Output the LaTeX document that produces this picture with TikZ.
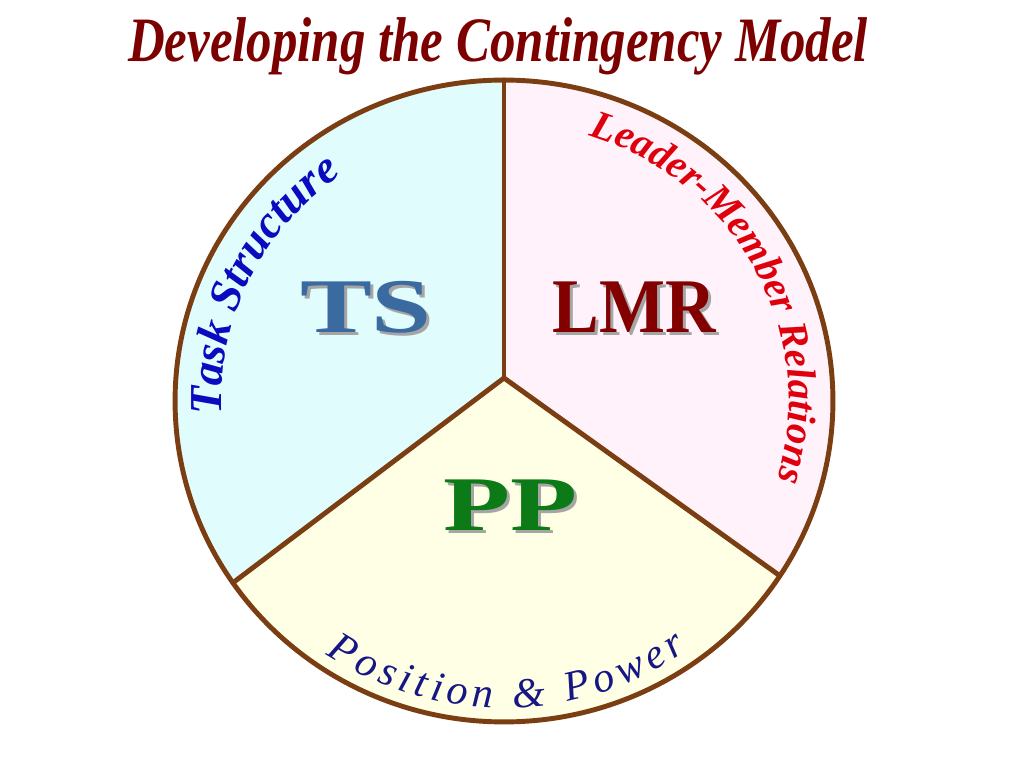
\documentclass[tikz,border=0pt]{standalone}
\usepackage{fontspec}
\setmainfont{Liberation Serif}
\usepackage{xcolor}
\usepackage{graphicx}
\usetikzlibrary{positioning, calc, decorations.text}

\definecolor{rimbrown}{RGB}{122,62,18}
\definecolor{tsfill}{RGB}{224,252,252}
\definecolor{lmrfill}{RGB}{255,242,250}
\definecolor{ppfill}{RGB}{255,255,230}
\definecolor{tsblue}{RGB}{58,106,160}
\definecolor{lmrred}{RGB}{130,0,0}
\definecolor{ppgreen}{RGB}{12,122,22}
\definecolor{titlered}{RGB}{125,0,0}
\definecolor{taskblue}{RGB}{10,10,190}
\definecolor{relred}{RGB}{222,0,12}
\definecolor{posblue}{RGB}{22,22,132}
\definecolor{shadowgray}{RGB}{165,165,165}

\begin{document}
\begin{tikzpicture}[x=0.02cm, y=0.02cm,
    rim/.style={rimbrown, line width=2.8pt, line cap=round, line join=round},
    big/.style={font=\fontsize{44}{44}\selectfont\bfseries, inner sep=0pt, anchor=base},
    ell/.style={x radius=6.58cm, y radius=6.42cm}]
    \useasboundingbox (0,0) rectangle (1024,768);
    % centre of the wheel and the three rim points
    \coordinate (ctr) at (504,367);
    \coordinate (hub) at (504,390);
    \coordinate (rimT) at ($(ctr)+(90:6.58cm and 6.42cm)$);
    \coordinate (rimL) at ($(ctr)+(214.5:6.58cm and 6.42cm)$);
    \coordinate (rimR) at ($(ctr)+(327:6.58cm and 6.42cm)$);
    % sectors
    \fill[tsfill] (hub) -- (rimT) arc[start angle=90, end angle=214.5, ell] -- cycle;
    \fill[lmrfill] (hub) -- (rimR) arc[start angle=-33, end angle=90, ell] -- cycle;
    \fill[ppfill] (hub) -- (rimL) arc[start angle=214.5, end angle=327, ell] -- cycle;
    % outline and dividers
    \draw[rim] (ctr) ellipse [ell];
    \foreach \r in {rimT, rimL, rimR} {
        \draw[rim] (hub) -- (\r);
    }
    % title
    \node[anchor=base, inner sep=0pt, titlered] (title) at (498,706)
        {\resizebox{14.8cm}{\height}{\fontsize{36}{36}\selectfont\bfseries\itshape Developing the Contingency Model}};
    % big letters with their shadows
    \node[big, shadowgray] (ts shadow) at (369,432) {\resizebox{2.64cm}{\height}{TS}};
    \node[big, tsblue] (ts) at (366,435) {\resizebox{2.64cm}{\height}{TS}};
    \node[big, shadowgray] (lmr shadow) at (637,432) {\resizebox{3.26cm}{\height}{LMR}};
    \node[big, lmrred] (lmr) at (634,435) {\resizebox{3.26cm}{\height}{LMR}};
    \node[big, shadowgray] (pp shadow) at (513,235) {\resizebox{2.68cm}{\height}{PP}};
    \node[big, ppgreen] (pp) at (510,238) {\resizebox{2.68cm}{\height}{PP}};
    % words round the rim
    \path[decorate, decoration={text along path, text align=center,
        text={|\fontsize{26}{26}\selectfont\bfseries\itshape\color{taskblue}|Task Structure}}]
        ($(ctr)+(190:5.66cm and 5.52cm)$) arc[start angle=190, end angle=118, x radius=5.66cm, y radius=5.52cm];
    \path[decorate, decoration={text along path, text align=center,
        text={|\fontsize{23}{23}\selectfont\bfseries\itshape\color{relred}|Leader-Member Relations}}]
        ($(ctr)+(80:5.7cm and 5.56cm)$) arc[start angle=80, end angle=-24, x radius=5.7cm, y radius=5.56cm];
    \path[decorate, decoration={text along path, text align=fit to path,
        text={|\fontsize{24}{24}\selectfont\itshape\color{posblue}|Position {\&} Power}}]
        ($(ctr)+(235.6:6.3cm and 6.14cm)$) arc[start angle=235.6, end angle=305.5, x radius=6.3cm, y radius=6.14cm];
\end{tikzpicture}
\end{document}
